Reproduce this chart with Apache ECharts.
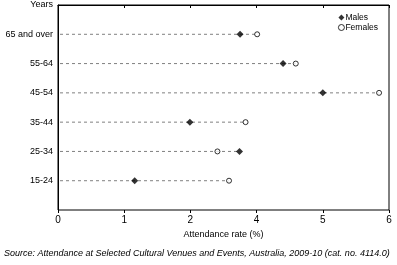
<!DOCTYPE html>
<html><head><meta charset="utf-8">
<script src="https://cdn.jsdelivr.net/npm/echarts@6/dist/echarts.min.js"></script>
<style>html,body{margin:0;padding:0;background:#fff}#c{width:397px;height:265px}</style>
</head><body><div id="c"></div>
<script>
const categories = ["", "15-24", "25-34", "35-44", "45-54", "55-64", "65 and over", "Years"];
const ageGroups = ["15-24", "25-34", "35-44", "45-54", "55-64", "65 and over"];
const males = [1.39, 3.29, 2.39, 4.80, 4.08, 3.30];
const females = [3.10, 2.89, 3.40, 5.82, 4.31, 3.61];
const xTickLabels = ["0", "1", "2", "4", "5", "6"];
const xMin = 0, xMax = 6, xInterval = 1.2;

const font = 'Liberation Sans, Arial, sans-serif';
const chart = echarts.init(document.getElementById('c'));
const lineData = ageGroups.map((g, i) => [Math.max(males[i], females[i]), g]);
chart.setOption({
  animation: false,
  grid: {left: 58, right: 8, top: 5, bottom: 55, show: true, borderColor: '#000', borderWidth: 1, backgroundColor: 'transparent'},
  legend: {
    orient: 'vertical', right: 14, top: 8, itemGap: 1, itemWidth: 6, itemHeight: 6,
    textStyle: {fontFamily: font, fontSize: 8.5, color: '#000', padding: [0,0,0,-4]},
    data: [{name: 'Males', icon: 'diamond'},
           {name: 'Females', icon: 'circle', itemStyle: {color: '#fff', borderColor: '#000', borderWidth: 1}}]
  },
  xAxis: [{
    type: 'value', min: xMin, max: xMax, interval: xInterval,
    name: 'Attendance rate (%)', nameLocation: 'middle', nameGap: 20,
    nameTextStyle: {fontFamily: font, fontSize: 9, color: '#000'},
    axisLine: {lineStyle: {color: '#000', width: 1}},
    axisTick: {show: true, length: 3, lineStyle: {color: '#000'}},
    axisLabel: {fontFamily: font, fontSize: 10, color: '#000', margin: 5,
      formatter: (v) => xTickLabels[Math.round(v / xInterval)]},
    splitLine: {show: false}
  }, {
    type: 'value', position: 'top', min: xMin, max: xMax, interval: xInterval,
    axisLine: {show: true, lineStyle: {color: '#000', width: 1}},
    axisTick: {show: true, inside: true, length: 3, lineStyle: {color: '#000'}},
    axisLabel: {show: false}, splitLine: {show: false}
  }],
  yAxis: [{
    type: 'category', data: categories, boundaryGap: false,
    axisLine: {lineStyle: {color: '#000', width: 1}},
    axisTick: {show: false},
    axisLabel: {fontFamily: font, fontSize: 9, color: '#000', margin: 5, showMaxLabel: true, showMinLabel: true, interval: 0},
    splitLine: {show: false}
  }],
  series: [{
    type: 'custom', silent: true, z: 1,
    renderItem: (params, api) => {
      const p0 = api.coord([0, api.value(1)]);
      const p1 = api.coord([api.value(0), api.value(1)]);
      return {type: 'line', shape: {x1: p0[0] + 2, y1: p0[1], x2: p1[0], y2: p1[1]},
        style: {stroke: '#808080', lineWidth: 1, lineDash: [3, 3]}};
    },
    data: lineData
  }, {
    name: 'Males', type: 'scatter', z: 3, symbol: 'diamond', symbolSize: 7,
    itemStyle: {color: '#000'},
    data: ageGroups.map((g, i) => [males[i], g])
  }, {
    name: 'Females', type: 'scatter', z: 3, symbol: 'circle', symbolSize: 5,
    itemStyle: {color: '#fff', borderColor: '#000', borderWidth: 1},
    data: ageGroups.map((g, i) => [females[i], g])
  }],
  graphic: [{
    type: 'text', left: 4, top: 249,
    style: {text: 'Source: Attendance at Selected Cultural Venues and Events, Australia, 2009-10 (cat. no. 4114.0)',
      fontFamily: font, fontSize: 9, fontStyle: 'italic', fill: '#000'}
  }]
});
</script></body></html>
